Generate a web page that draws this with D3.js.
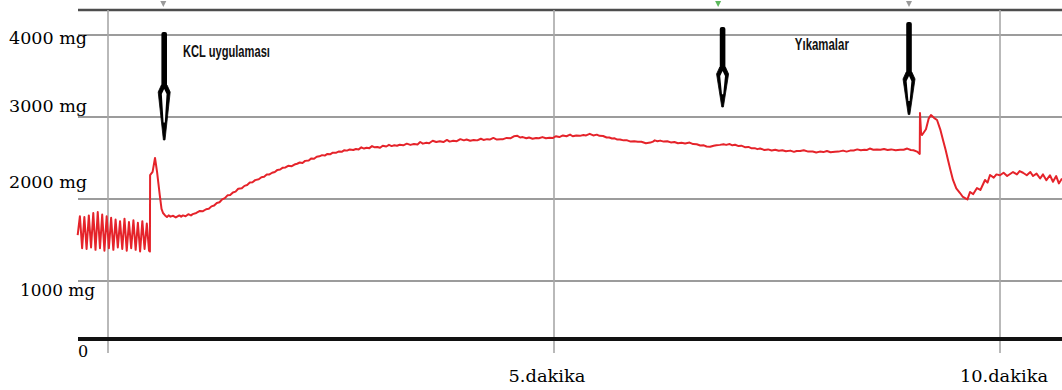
<!DOCTYPE html>
<html><head><meta charset="utf-8">
<script src="https://cdn.jsdelivr.net/npm/d3@7"></script>
<style>html,body{margin:0;padding:0;background:#fff;}svg{display:block;}</style>
</head><body>
<svg id="chart" width="1062" height="390"></svg>
<script>
// ---- data ----
const yTicks = [1000, 2000, 3000, 4000];
const yTickLabels = ["1000 mg", "2000 mg", "3000 mg", "4000 mg"];
const xTicks = [0, 5, 10];
const xTickLabels = ["", "5.dakika", "10.dakika"];
const zeroLabel = "0";
// [minute, mg]
const forceTrace = [
 [-0.340,1560],[-0.315,1790],[-0.290,1400],[-0.265,1780],[-0.240,1390],[-0.215,1800],[-0.190,1410],
 [-0.165,1830],[-0.140,1380],[-0.115,1840],[-0.090,1400],[-0.065,1810],[-0.040,1370],[-0.015,1790],
 [0.010,1400],[0.035,1770],[0.060,1380],[0.085,1750],[0.110,1410],[0.135,1730],[0.160,1390],
 [0.185,1760],[0.210,1370],[0.235,1720],[0.260,1400],[0.285,1740],[0.310,1380],[0.335,1710],
 [0.360,1360],[0.385,1730],[0.410,1390],[0.435,1700],[0.460,1370],[0.470,1360],
 [0.472,2290],[0.500,2330],[0.527,2500],[0.550,2330],[0.580,2050],[0.600,1880],[0.617,1829],
 [0.640,1800],[0.661,1780],[0.680,1800],[0.700,1785],[0.730,1795],[0.760,1775],[0.800,1800],
 [0.820,1785],[0.840,1800],[0.870,1790],[0.900,1815],[0.930,1800],[0.950,1815],[0.990,1830],
 [1.030,1854],[1.060,1850],[1.100,1875],[1.130,1880],[1.160,1910],[1.190,1920],[1.220,1951],
 [1.250,1960],[1.280,1995],[1.310,2010],[1.340,2045],[1.370,2050],[1.400,2080],[1.430,2090],
 [1.460,2125],[1.500,2130],[1.530,2160],[1.560,2170],[1.590,2200],[1.620,2205],[1.650,2230],
 [1.690,2240],[1.720,2265],[1.750,2270],[1.780,2298],[1.810,2300],[1.840,2320],[1.870,2330],
 [1.900,2355],[1.930,2360],[1.960,2382],[1.990,2385],[2.020,2405],[2.060,2400],[2.090,2420],
 [2.120,2430],[2.150,2445],[2.180,2440],[2.210,2465],[2.250,2470],[2.280,2495],[2.310,2490],
 [2.340,2515],[2.370,2520],[2.400,2535],[2.430,2530],[2.460,2550],[2.490,2545],[2.520,2565],
 [2.560,2565],[2.590,2580],[2.620,2575],[2.650,2595],[2.680,2590],[2.710,2605],[2.750,2598],
 [2.780,2610],[2.810,2605],[2.840,2630],[2.870,2615],[2.900,2625],[2.930,2620],[2.960,2645],
 [2.990,2630],[3.020,2635],[3.050,2625],[3.080,2650],[3.120,2640],[3.150,2660],[3.180,2645],
 [3.210,2655],[3.240,2650],[3.270,2662],[3.310,2655],[3.350,2675],[3.390,2660],[3.430,2670],
 [3.470,2665],[3.500,2695],[3.530,2675],[3.570,2685],[3.600,2680],[3.640,2710],[3.680,2695],
 [3.720,2705],[3.760,2695],[3.800,2720],[3.830,2700],[3.870,2710],[3.910,2705],[3.950,2730],
 [3.990,2715],[4.020,2725],[4.060,2710],[4.100,2720],[4.140,2715],[4.180,2735],[4.210,2720],
 [4.250,2730],[4.280,2725],[4.320,2745],[4.360,2725],[4.400,2730],[4.430,2730],[4.470,2745],
 [4.510,2740],[4.550,2765],[4.590,2770],[4.620,2750],[4.650,2755],[4.690,2740],[4.720,2750],
 [4.760,2735],[4.800,2745],[4.830,2740],[4.870,2755],[4.910,2740],[4.950,2748],[4.990,2745],
 [5.020,2765],[5.060,2755],[5.100,2775],[5.140,2765],[5.180,2785],[5.210,2765],[5.250,2775],
 [5.290,2770],[5.330,2780],[5.360,2775],[5.400,2795],[5.440,2775],[5.480,2785],[5.510,2770],
 [5.550,2768],[5.590,2750],[5.620,2750],[5.650,2738],[5.680,2740],[5.710,2725],[5.740,2725],
 [5.780,2715],[5.820,2715],[5.860,2700],[5.900,2705],[5.940,2698],[5.980,2698],[6.030,2680],
 [6.080,2688],[6.110,2700],[6.130,2715],[6.160,2705],[6.190,2712],[6.230,2700],[6.270,2705],
 [6.310,2690],[6.350,2695],[6.390,2680],[6.430,2685],[6.470,2678],[6.520,2688],[6.560,2670],
 [6.600,2668],[6.640,2652],[6.680,2655],[6.710,2640],[6.750,2638],[6.790,2650],[6.820,2655],
 [6.860,2660],[6.900,2668],[6.930,2660],[6.970,2670],[7.000,2655],[7.030,2662],[7.070,2645],
 [7.100,2650],[7.140,2632],[7.180,2635],[7.210,2620],[7.250,2620],[7.280,2608],[7.310,2615],
 [7.360,2598],[7.400,2605],[7.440,2592],[7.480,2600],[7.520,2588],[7.560,2595],[7.600,2582],
 [7.650,2590],[7.690,2575],[7.720,2585],[7.760,2585],[7.800,2595],[7.850,2578],[7.900,2580],
 [7.940,2568],[7.980,2578],[8.020,2572],[8.060,2585],[8.100,2570],[8.150,2575],[8.190,2578],
 [8.240,2590],[8.280,2578],[8.320,2590],[8.360,2592],[8.400,2605],[8.440,2595],[8.480,2600],
 [8.510,2598],[8.540,2615],[8.580,2600],[8.620,2605],[8.660,2600],[8.700,2610],[8.740,2598],
 [8.780,2605],[8.830,2595],[8.880,2602],[8.920,2600],[8.960,2615],[9.000,2598],[9.030,2595],
 [9.070,2578],[9.100,2550],[9.103,3049],[9.115,2805],[9.126,2780],
 [9.170,2850],[9.200,2980],[9.226,3024],[9.260,2990],[9.294,2963],[9.330,2850],[9.361,2720],
 [9.390,2600],[9.417,2476],[9.445,2350],[9.473,2232],[9.510,2130],[9.552,2073],[9.580,2030],
 [9.608,2012],[9.635,1995],[9.664,2085],[9.700,2060],[9.742,2134],[9.780,2110],[9.832,2232],
 [9.860,2200],[9.888,2293],[9.930,2260],[9.960,2300],[10.000,2290],[10.040,2320],[10.080,2280],
 [10.146,2329],[10.190,2300],[10.220,2340],[10.258,2320],[10.300,2290],[10.340,2330],[10.370,2280],
 [10.410,2310],[10.450,2250],[10.482,2300],[10.520,2230],[10.560,2290],[10.594,2210],[10.630,2280],
 [10.660,2190],[10.695,2250]
];
// annotation arrows: minute, top / head start / tip in mg
const arrowMinutes = [0.63, 6.89, 8.98];
const arrowTopMg = [4037, 4098, 4159];
const arrowHeadMg = [3390, 3610, 3549];
const arrowTipMg = [2720, 3122, 3030];
const markerMinutes = [0.62, 6.84, 8.98];
const markerColors = ["#9a9a9a", "#5cb85c", "#9a9a9a"];
const annotations = [
  {text: "KCL uygulaması", t: 0.84, mg: 3730, w: 87},
  {text: "Yıkamalar", t: 7.70, mg: 3820, w: 54}
];

(function () {
// ---- layout ----
const svg = d3.select("#chart");
const pL = 78, pR = 1062, pT = 10, pB = 339;
const x = d3.scaleLinear().domain([0, 10]).range([108, 1000]);
const y = d3.scaleLinear().domain([1000, 4000]).range([281, 35]);

// horizontal grid
svg.append("g").selectAll("line").data(yTicks).join("line")
  .attr("x1", pL).attr("x2", pR)
  .attr("y1", d => y(d)).attr("y2", d => y(d))
  .attr("stroke", "#9c9c9c").attr("stroke-width", 2);

// top border
svg.append("line").attr("x1", pL).attr("x2", pR).attr("y1", pT).attr("y2", pT)
  .attr("stroke", "#4d4d4d").attr("stroke-width", 2.5);

// vertical grid
svg.append("g").selectAll("line").data(xTicks).join("line")
  .attr("x1", d => x(d)).attr("x2", d => x(d))
  .attr("y1", pT).attr("y2", 353)
  .attr("stroke", "#a8a8a8").attr("stroke-width", 1.6);

// top markers
svg.append("g").selectAll("path").data(markerMinutes).join("path")
  .attr("d", d => `M${x(d)-3},1 L${x(d)+3},1 L${x(d)},7 Z`)
  .attr("fill", (d, i) => markerColors[i]);

// trace
const line = d3.line().x(d => x(d[0])).y(d => y(d[1]));
svg.append("path").datum(forceTrace)
  .attr("d", line).attr("fill", "none")
  .attr("stroke", "#e5232a").attr("stroke-width", 2)
  .attr("stroke-linejoin", "round");

// bottom axis line
svg.append("line").attr("x1", pL).attr("x2", pR).attr("y1", pB).attr("y2", pB)
  .attr("stroke", "#111").attr("stroke-width", 4);

// y labels (hand-placed offsets as in the original figure)
const yLabelDy = [15, -11, -5, 9];
const yLabelX = [95, 87, 87, 87];
const yLabelW = [75, 78, 78, 78];
svg.append("g").selectAll("text").data(yTicks).join("text")
  .attr("x", (d, i) => yLabelX[i]).attr("y", (d, i) => y(d) + yLabelDy[i])
  .attr("text-anchor", "end")
  .attr("font-family", "DejaVu Serif, serif").attr("font-size", 16)
  .attr("fill", "#000")
  .attr("textLength", (d, i) => yLabelW[i]).attr("lengthAdjust", "spacingAndGlyphs")
  .text((d, i) => yTickLabels[i]);

svg.append("text").attr("x", 83).attr("y", 357).attr("text-anchor", "middle")
  .attr("font-family", "DejaVu Serif, serif").attr("font-size", 16).attr("fill", "#000")
  .text(zeroLabel);

// x labels
const xLabelDx = [0, -7, 4];
const xLabelW = [0, 77, 88];
svg.append("g").selectAll("text").data(xTicks.filter((d, i) => xTickLabels[i])).join("text")
  .attr("x", d => x(d) + xLabelDx[xTicks.indexOf(d)]).attr("y", 382)
  .attr("text-anchor", "middle")
  .attr("font-family", "DejaVu Serif, serif").attr("font-size", 17).attr("fill", "#000")
  .attr("textLength", d => xLabelW[xTicks.indexOf(d)]).attr("lengthAdjust", "spacingAndGlyphs")
  .text(d => xTickLabels[xTicks.indexOf(d)]);

// arrows: black shaft, dart head with a narrow white slit
const ag = svg.append("g");
arrowMinutes.forEach((t, i) => {
  const cx = x(t), yt = y(arrowTopMg[i]), yh = y(arrowHeadMg[i]), yp = y(arrowTipMg[i]);
  const hl = yp - yh;
  ag.append("rect").attr("x", cx - 2.8).attr("y", yt).attr("width", 5.6).attr("height", yh - yt + 4)
    .attr("rx", 2).attr("fill", "#000");
  ag.append("path")
    .attr("d", `M${cx-2.8},${yh} L${cx-6},${yh+7} L${cx-0.8},${yp} L${cx+0.8},${yp} L${cx+6},${yh+7} L${cx+2.8},${yh} Z`)
    .attr("fill", "#000").attr("stroke", "#000").attr("stroke-width", 0.8).attr("stroke-linejoin", "round");
  ag.append("path")
    .attr("d", `M${cx},${yh+4} L${cx-2.4},${yh+9} L${cx-0.6},${yh+hl*0.68} L${cx+0.6},${yh+hl*0.68} L${cx+2.4},${yh+9} Z`)
    .attr("fill", "#fff");
});

// annotation text
svg.append("g").selectAll("text").data(annotations).join("text")
  .attr("x", d => x(d.t)).attr("y", d => y(d.mg))
  .attr("font-family", "Liberation Sans Narrow, Arial Narrow, Liberation Sans, sans-serif")
  .attr("font-weight", "bold").attr("font-size", 17).attr("fill", "#111")
  .attr("textLength", d => d.w).attr("lengthAdjust", "spacingAndGlyphs")
  .text(d => d.text);
})();
</script>
</body></html>
